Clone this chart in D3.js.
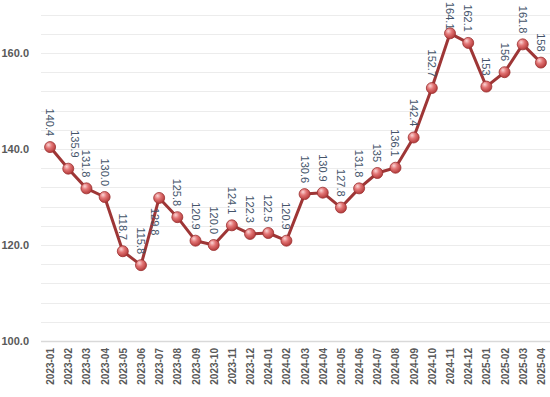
<!DOCTYPE html>
<html>
<head>
<meta charset="utf-8">
<script src="https://cdn.jsdelivr.net/npm/d3@7"></script>
<style>
  body { margin: 0; background: #fff; }
  svg { display: block; }
</style>
</head>
<body>
<svg id="chart" width="550" height="397"></svg>
<script>
// monthly index values
const months = ['2023-01','2023-02','2023-03','2023-04','2023-05','2023-06','2023-07','2023-08','2023-09','2023-10','2023-11','2023-12',
  '2024-01','2024-02','2024-03','2024-04','2024-05','2024-06','2024-07','2024-08','2024-09','2024-10','2024-11','2024-12',
  '2025-01','2025-02','2025-03','2025-04'];
const values = [140.4,135.9,131.8,130.0,118.7,115.8,129.8,125.8,120.9,120.0,124.1,122.3,
  122.5,120.9,130.6,130.9,127.8,131.8,135,136.1,142.4,152.7,164.1,162.1,
  153,156,161.8,158];
const labels = ['140.4','135.9','131.8','130.0','118.7','115.8','129.8','125.8','120.9','120.0','124.1','122.3',
  '122.5','120.9','130.6','130.9','127.8','131.8','135','136.1','142.4','152.7','164.1','162.1',
  '153','156','161.8','158'];
const yTicks = [100, 120, 140, 160];
const gridTicks = d3.range(100, 169, 4);

const width = 550, height = 397;
const padL = 41, padR = 550, padT = 14.6, padB = 341;

// label placement tweaks (the original nudges a few labels around)
const labelBelow = new Set(['2023-07']);
const labelShift = {'2023-02': 7, '2023-07': -4};

const svg = d3.select('#chart');

const x = d3.scalePoint().domain(months).range([padL, padR]).padding(0.5);
const y = d3.scaleLinear().domain([100, 168]).range([padB, padT]);

const defs = svg.append('defs');
const grad = defs.append('radialGradient').attr('id', 'ball')
  .attr('cx', '40%').attr('cy', '35%').attr('r', '65%').attr('fx', '35%').attr('fy', '30%');
grad.append('stop').attr('offset', '0%').attr('stop-color', '#fbd6d6');
grad.append('stop').attr('offset', '45%').attr('stop-color', '#e27474');
grad.append('stop').attr('offset', '100%').attr('stop-color', '#b33a3a');

// grid
svg.append('g').selectAll('line').data(gridTicks).join('line')
  .attr('x1', padL).attr('x2', padR)
  .attr('y1', d => Math.round(y(d)) + 0.5).attr('y2', d => Math.round(y(d)) + 0.5)
  .attr('stroke', d => d === 100 ? '#d9d9d9' : '#ececec')
  .attr('stroke-width', d => d === 100 ? 1.5 : 1.2);

// y axis labels
const yAxis = d3.axisLeft(y).tickValues(yTicks).tickFormat(d3.format('.1f')).tickSize(0).tickPadding(12);
svg.append('g').attr('transform', `translate(${padL},0)`).call(yAxis)
  .call(g => g.select('.domain').remove())
  .selectAll('text')
  .attr('font-family', 'Liberation Sans, Arial, sans-serif')
  .attr('font-size', 11).attr('font-weight', 'bold').attr('fill', '#595959');

// x axis labels
const xAxis = d3.axisBottom(x).tickSize(0).tickPadding(0);
svg.append('g').attr('transform', `translate(0,${padB})`).call(xAxis)
  .call(g => g.select('.domain').remove())
  .selectAll('text')
  .attr('font-family', 'Liberation Sans, Arial, sans-serif')
  .attr('font-size', 10).attr('font-weight', 'bold').attr('fill', '#595959')
  .attr('text-anchor', 'end').attr('dy', null)
  .attr('dominant-baseline', 'central')
  .attr('transform', 'translate(0,7) rotate(-90)')
  .attr('y', 0).attr('x', 0);

// line
const line = d3.line().x((d, i) => x(months[i])).y(d => y(d));
svg.append('path').datum(values)
  .attr('d', line)
  .attr('fill', 'none')
  .attr('stroke', '#9e3636')
  .attr('stroke-width', 3)
  .attr('stroke-linejoin', 'round');

// markers
svg.append('g').selectAll('circle').data(values).join('circle')
  .attr('cx', (d, i) => x(months[i]))
  .attr('cy', d => y(d))
  .attr('r', 5.5)
  .attr('fill', 'url(#ball)')
  .attr('stroke', '#9a3030')
  .attr('stroke-width', 0.8);

// data labels, rotated to read downwards
svg.append('g').selectAll('text').data(values).join('text')
  .attr('text-anchor', (d, i) => labelBelow.has(months[i]) ? 'start' : 'end')
  .attr('dominant-baseline', 'central')
  .attr('font-family', 'Liberation Sans, Arial, sans-serif')
  .attr('font-size', 11)
  .attr('fill', '#44546a')
  .text((d, i) => labels[i])
  .attr('transform', function (d, i) {
    const m = months[i];
    const px = x(m) + (labelShift[m] || 0);
    let py;
    if (labelBelow.has(m)) {
      py = y(d) + 10;
    } else {
      const len = this.getComputedTextLength();
      py = Math.max(y(d) - 11, len + 2);
    }
    return `translate(${px},${py}) rotate(90)`;
  });
</script>
</body>
</html>
